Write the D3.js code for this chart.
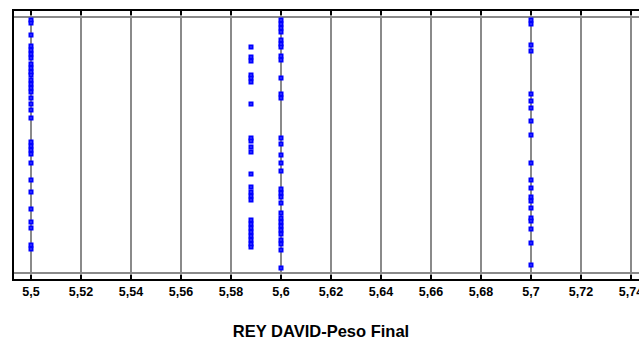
<!DOCTYPE html>
<html>
<head>
<meta charset="utf-8">
<script src="https://cdn.jsdelivr.net/npm/d3@7"></script>
<style>
  html, body { margin: 0; padding: 0; background: #fff; }
  svg { display: block; font-family: "Liberation Sans", Arial, sans-serif; }
</style>
</head>
<body>
<svg width="639" height="342"></svg>
<script>
// x tick values (Peso Final)
const xTicks = [5.5, 5.52, 5.54, 5.56, 5.58, 5.6, 5.62, 5.64, 5.66, 5.68, 5.7, 5.72, 5.74];
// each group: x value and vertical positions of its points (jitter units, 0 = bottom)
const groupX = [5.5, 5.588, 5.6, 5.7];
const pts55 = [252, 249, 237, 226, 222, 218, 214, 208, 204, 200, 197, 192, 188, 184, 180, 174, 168, 162, 154, 130, 126, 122, 118, 109, 92, 80, 63, 50, 44, 27, 23];
const pts5588 = [225, 215, 211, 197, 194, 190, 168, 134, 131, 125, 120, 98, 85, 80, 76, 72, 52, 48, 44, 40, 36, 32, 28, 25];
const pts56 = [252, 248, 244, 240, 232, 228, 225, 216, 212, 194, 178, 174, 134, 128, 117, 109, 101, 83, 79, 75, 69, 59, 54, 50, 46, 42, 38, 32, 28, 22, 4];
const pts57 = [252, 248, 227, 221, 178, 171, 164, 151, 137, 109, 92, 84, 75, 71, 64, 54, 51, 43, 29, 7];
const title = 'REY DAVID-Peso Final';

const svg = d3.select('svg');
const x = d3.scaleLinear().domain([5.5, 5.74]).range([31, 631]);
const y = d3.scaleLinear().domain([0, 255]).range([272, 17]);
const loc = d3.formatLocale({decimal: ',', thousands: '.', grouping: [3], currency: ['', '']});
const fmt = loc.format('~f');

const frameTop = 10, frameBottom = 280, frameLeft = 13;

// vertical grid
svg.append('g').selectAll('line').data(xTicks).join('line')
  .attr('x1', d => x(d)).attr('x2', d => x(d))
  .attr('y1', frameTop).attr('y2', frameBottom)
  .attr('stroke', '#8a8a8a').attr('stroke-width', 2);
// inner horizontal gray lines
svg.append('line').attr('x1', frameLeft).attr('x2', 639).attr('y1', y(255)).attr('y2', y(255))
  .attr('stroke', '#8a8a8a').attr('stroke-width', 2);
svg.append('line').attr('x1', frameLeft).attr('x2', 639).attr('y1', y(0) + 1).attr('y2', y(0) + 1)
  .attr('stroke', '#8a8a8a').attr('stroke-width', 2);

// frame
svg.append('line').attr('x1', frameLeft).attr('x2', 639).attr('y1', frameTop).attr('y2', frameTop)
  .attr('stroke', '#000').attr('stroke-width', 2);
svg.append('line').attr('x1', frameLeft).attr('x2', 639).attr('y1', frameBottom).attr('y2', frameBottom)
  .attr('stroke', '#000').attr('stroke-width', 2);
svg.append('line').attr('x1', frameLeft).attr('x2', frameLeft).attr('y1', frameTop - 1).attr('y2', frameBottom + 1)
  .attr('stroke', '#000').attr('stroke-width', 2);

// inward ticks
svg.append('g').selectAll('line').data(xTicks).join('line')
  .attr('x1', d => x(d)).attr('x2', d => x(d))
  .attr('y1', frameTop).attr('y2', frameTop + 5)
  .attr('stroke', '#000').attr('stroke-width', 2);
svg.append('g').selectAll('line').data(xTicks).join('line')
  .attr('x1', d => x(d)).attr('x2', d => x(d))
  .attr('y1', frameBottom - 5).attr('y2', frameBottom)
  .attr('stroke', '#000').attr('stroke-width', 2);

// tick labels
svg.append('g').selectAll('text').data(xTicks).join('text')
  .attr('x', d => x(d)).attr('y', 296)
  .attr('text-anchor', 'middle').attr('font-size', 12.5).attr('font-weight', 'bold')
  .attr('fill', '#000').text(d => fmt(d));

// points
const groups = [pts55, pts5588, pts56, pts57];
groups.forEach((vals, gi) => {
  const gx = x(groupX[gi]);
  const g = svg.append('g');
  g.selectAll('rect.m').data(vals).join('rect').attr('class', 'm')
    .attr('x', gx - 2.5).attr('y', d => y(d) - 2.5)
    .attr('width', 5).attr('height', 5)
    .attr('fill', '#0000ff');
  g.selectAll('rect.c').data(vals).join('rect').attr('class', 'c')
    .attr('x', gx - 0.5).attr('y', d => y(d) - 0.5)
    .attr('width', 1).attr('height', 1)
    .attr('fill', '#9999ff');
});

// title
svg.append('text').attr('x', 321).attr('y', 337)
  .attr('text-anchor', 'middle').attr('font-size', 16.5).attr('font-weight', 'bold')
  .attr('fill', '#000').text(title);
</script>
</body>
</html>
